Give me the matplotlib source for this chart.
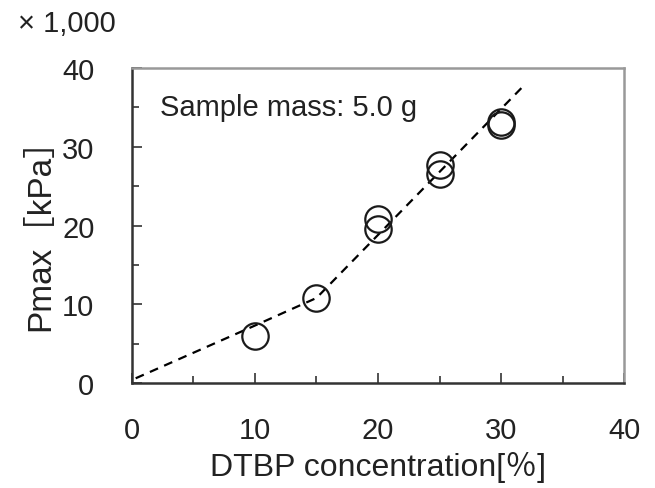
import matplotlib
matplotlib.use("Agg")
import matplotlib.pyplot as plt
from matplotlib.ticker import MultipleLocator

plt.rcParams['font.family'] = ['Liberation Sans', 'Noto Sans CJK JP', 'DejaVu Sans']

# measured points (DTBP %, Pmax x1000 kPa)
conc = [10, 15, 20, 20, 25, 25, 30, 30]
pmax = [6.0, 10.8, 20.8, 19.5, 27.7, 26.6, 33.1, 32.8]

# dashed trend line
trend_x = [0.3, 10, 15, 20, 25, 32]
trend_y = [0.6, 7.3, 10.8, 18.8, 26.8, 38.0]

fig = plt.figure(figsize=(6.55, 4.89), dpi=100)
ax = fig.add_axes([0.2015, 0.2147, 0.7512, 0.6442])

ax.plot(trend_x, trend_y, color='black', linestyle=(0, (4, 3)), linewidth=1.6)
ax.plot(conc, pmax, linestyle='none', marker='o', markersize=19,
        markerfacecolor='none', markeredgecolor='#1a1a1a', markeredgewidth=1.6)

ax.set_xlim(0, 40)
ax.set_ylim(0, 40)
ax.xaxis.set_major_locator(MultipleLocator(10))
ax.xaxis.set_minor_locator(MultipleLocator(5))
ax.yaxis.set_major_locator(MultipleLocator(10))
ax.yaxis.set_minor_locator(MultipleLocator(5))
ax.tick_params(which='both', direction='in', top=False, right=False,
               width=1.2, color='#333333', labelcolor='#222222')
ax.tick_params(which='major', length=7)
ax.tick_params(which='minor', length=5)
ax.tick_params(axis='x', which='major', pad=24, labelsize=21)
ax.tick_params(axis='y', which='major', pad=27, labelsize=21)

for s in ['left', 'bottom']:
    ax.spines[s].set_color('#333333')
    ax.spines[s].set_linewidth(1.8)
for s in ['top', 'right']:
    ax.spines[s].set_color('#999999')
    ax.spines[s].set_linewidth(1.8)

ax.set_xlabel('DTBP concentration[％]', fontsize=23, labelpad=5, color='#222222')
ax.set_ylabel('Pmax［kPa］', fontsize=24, labelpad=4, color='#222222')

ax.text(2.3, 35, 'Sample mass: 5.0 g', fontsize=21, va='center', ha='left',
        color='#222222')
fig.text(0.028, 0.95, '× 1,000', fontsize=21, va='center', ha='left',
         color='#222222')

fig.savefig('out.png', dpi=100)
